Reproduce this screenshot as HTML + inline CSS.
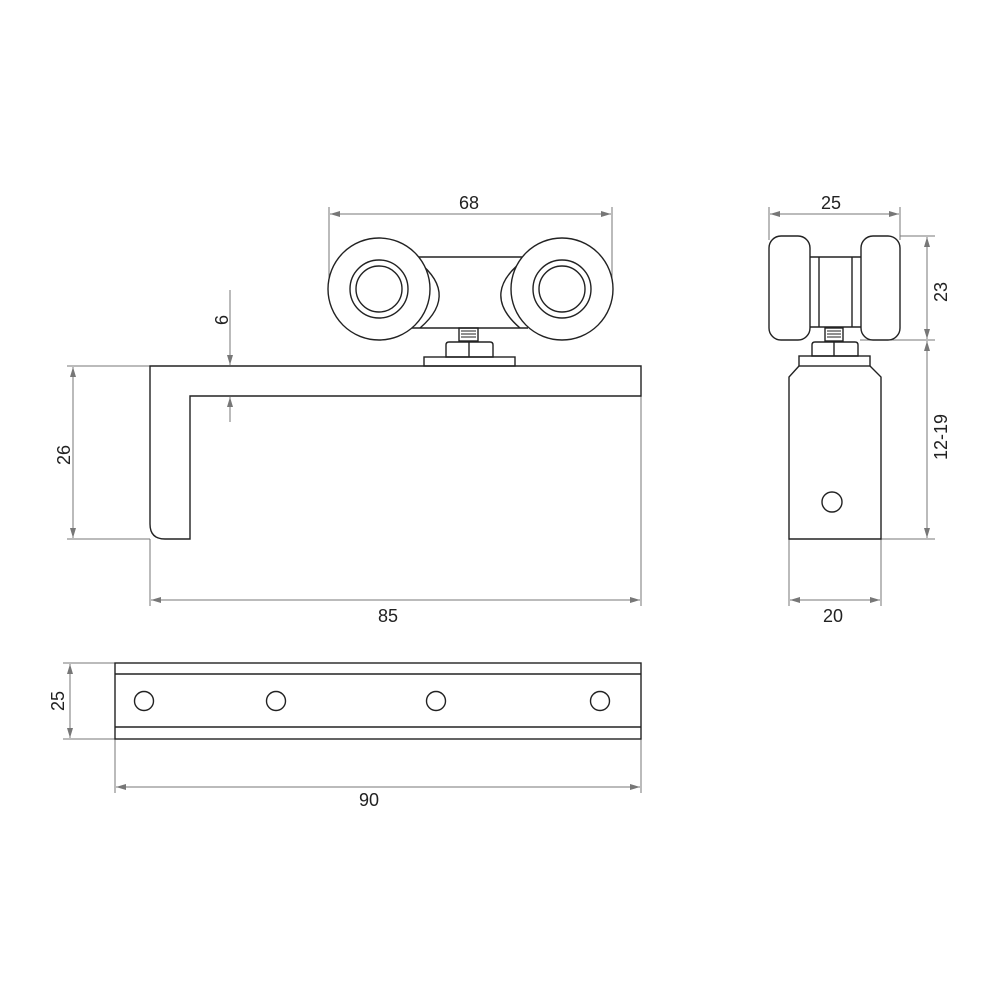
<!DOCTYPE html>
<html><head><meta charset="utf-8"><style>html,body{margin:0;padding:0;background:#fff}svg{display:block}</style></head>
<body>
<svg width="1000" height="1000" viewBox="0 0 1000 1000" xmlns="http://www.w3.org/2000/svg">
<defs>
<marker id="a" viewBox="0 0 10 6" refX="10" refY="3" markerWidth="10" markerHeight="6" markerUnits="userSpaceOnUse" orient="auto-start-reverse"><path d="M0,0 L10,3 L0,6 z" fill="#777"/></marker>
</defs>
<g fill="none" stroke="#777" stroke-width="1">
<line x1="329" y1="207" x2="329" y2="290"/><line x1="612" y1="207" x2="612" y2="290"/>
<line x1="330" y1="214" x2="611" y2="214" marker-start="url(#a)" marker-end="url(#a)"/>
<line x1="230" y1="290" x2="230" y2="365" marker-end="url(#a)"/>
<line x1="230" y1="422" x2="230" y2="397" marker-end="url(#a)"/>
<line x1="67" y1="366" x2="150" y2="366"/><line x1="67" y1="539" x2="150" y2="539"/>
<line x1="73" y1="367" x2="73" y2="538" marker-start="url(#a)" marker-end="url(#a)"/>
<line x1="150" y1="539" x2="150" y2="606"/><line x1="641" y1="396" x2="641" y2="606"/>
<line x1="151" y1="600" x2="640" y2="600" marker-start="url(#a)" marker-end="url(#a)"/>
<line x1="769" y1="207" x2="769" y2="240"/><line x1="900" y1="207" x2="900" y2="240"/>
<line x1="770" y1="214" x2="899" y2="214" marker-start="url(#a)" marker-end="url(#a)"/>
<line x1="900" y1="236" x2="935" y2="236"/><line x1="860" y1="340" x2="935" y2="340"/><line x1="881" y1="539" x2="935" y2="539"/>
<line x1="927" y1="237" x2="927" y2="339" marker-start="url(#a)" marker-end="url(#a)"/>
<line x1="927" y1="341" x2="927" y2="538" marker-start="url(#a)" marker-end="url(#a)"/>
<line x1="789" y1="539" x2="789" y2="606"/><line x1="881" y1="539" x2="881" y2="606"/>
<line x1="790" y1="600" x2="880" y2="600" marker-start="url(#a)" marker-end="url(#a)"/>
<line x1="63" y1="663" x2="115" y2="663"/><line x1="63" y1="739" x2="115" y2="739"/>
<line x1="70" y1="664" x2="70" y2="738" marker-start="url(#a)" marker-end="url(#a)"/>
<line x1="115" y1="739" x2="115" y2="793"/><line x1="641" y1="739" x2="641" y2="793"/>
<line x1="116" y1="787" x2="640" y2="787" marker-start="url(#a)" marker-end="url(#a)"/>
</g>
<g fill="none" stroke="#222" stroke-width="1.4">
<path d="M150,366 L641,366 L641,396 L190,396 L190,539 L165,539 Q150,539 150,524 Z"/>
<path d="M412,257 L528,257 M412,328 L528,328"/>
<path d="M412,257 Q462,292 420,328"/>
<path d="M528,257 Q478,292 520,328"/>
<circle cx="379" cy="289" r="51" fill="#fff"/>
<circle cx="379" cy="289" r="29"/><circle cx="379" cy="289" r="23"/>
<circle cx="562" cy="289" r="51" fill="#fff"/>
<circle cx="562" cy="289" r="29"/><circle cx="562" cy="289" r="23"/>
<rect x="459" y="328" width="19" height="13"/>
<path d="M461,331 H476 M461,334 H476 M461,337 H476" stroke-width="1"/>
<path d="M446,357 V345 Q446,342 449,342 H490 Q493,342 493,345 V357 Z M469,342 V357"/>
<rect x="424" y="357" width="91" height="9"/>
<rect x="769" y="236" width="41" height="104" rx="12"/>
<rect x="861" y="236" width="39" height="104" rx="12"/>
<path d="M810,257 H861 M810,327 H861 M819,257 V327 M852,257 V327"/>
<rect x="825" y="328" width="18" height="13"/>
<path d="M827,331 H841 M827,334 H841 M827,337 H841" stroke-width="1"/>
<path d="M812,356 V345 Q812,342 815,342 H855 Q858,342 858,345 V356 Z M834,342 V356"/>
<rect x="799" y="356" width="71" height="10"/>
<path d="M799,366 L789,377 L789,539 L881,539 L881,377 L870,366"/>
<circle cx="832" cy="502" r="10"/>
<rect x="115" y="663" width="526" height="76"/>
<path d="M115,674 H641 M115,727 H641"/>
<circle cx="144" cy="701" r="9.5"/><circle cx="276" cy="701" r="9.5"/>
<circle cx="436" cy="701" r="9.5"/><circle cx="600" cy="701" r="9.5"/>
</g>
<g font-family="Liberation Sans, sans-serif" font-size="18" fill="#222" text-anchor="middle">
<text x="469" y="209">68</text>
<text x="831" y="209">25</text>
<text x="388" y="622">85</text>
<text x="833" y="622">20</text>
<text x="369" y="806">90</text>
<text transform="translate(228,320) rotate(-90)">6</text>
<text transform="translate(70,455) rotate(-90)">26</text>
<text transform="translate(947,292) rotate(-90)">23</text>
<text transform="translate(947,437) rotate(-90)">12-19</text>
<text transform="translate(64,701) rotate(-90)">25</text>
</g>
</svg>
</body></html>
